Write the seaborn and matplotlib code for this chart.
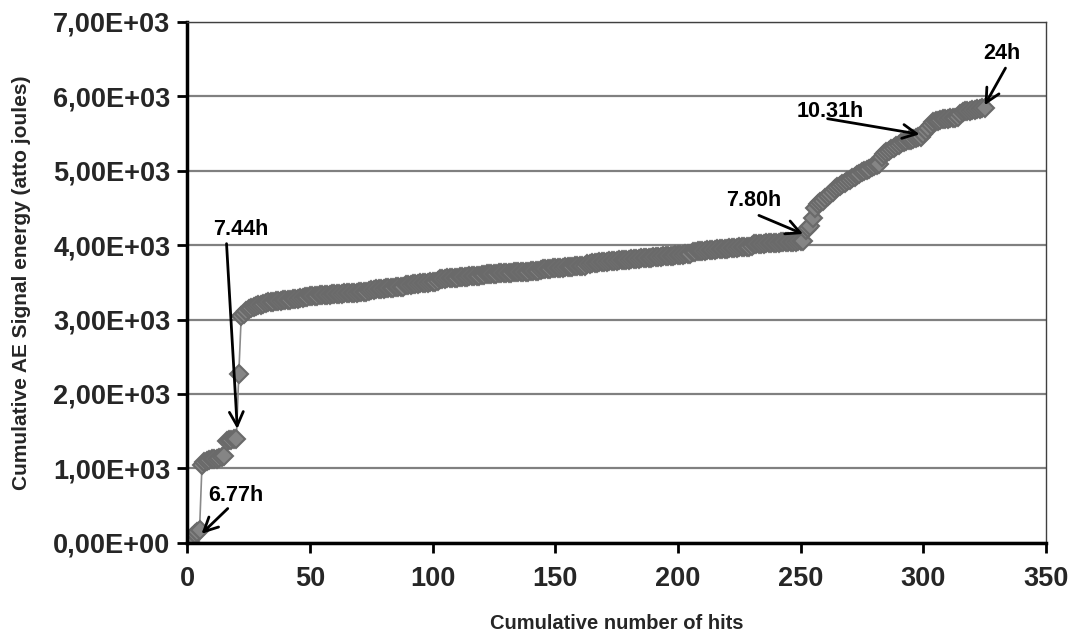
import seaborn as sns
import matplotlib.pyplot as plt
from matplotlib.ticker import FuncFormatter

# cumulative AE signal energy for each hit
energy = [
    0, 20, 80, 120, 150, 170,
    1050, 1080, 1100, 1110, 1120, 1125, 1130, 1140, 1150, 1170,
    1370, 1380, 1385, 1390, 1395,
    2270, 3050, 3080, 3110, 3140,
    3160, 3170, 3180, 3190, 3200, 3210, 3220, 3230, 3235, 3240,
    3245, 3250, 3255, 3258, 3261, 3264, 3267, 3270, 3275, 3280,
    3290, 3295, 3300, 3305, 3310, 3315, 3318, 3321, 3324, 3327,
    3330, 3333, 3336, 3339, 3342, 3345, 3348, 3350, 3352, 3354,
    3356, 3358, 3360, 3362, 3364, 3366, 3368, 3370, 3390, 3395,
    3400, 3405, 3410, 3413, 3416, 3419, 3422, 3425, 3428, 3431,
    3434, 3437, 3440, 3460, 3465, 3470, 3474, 3478, 3482, 3486,
    3490, 3494, 3498, 3502, 3506, 3510, 3514, 3540, 3545, 3550,
    3553, 3556, 3559, 3562, 3565, 3568, 3571, 3574, 3577, 3580,
    3583, 3586, 3589, 3592, 3595, 3605, 3608, 3611, 3614, 3617,
    3619, 3621, 3623, 3625, 3627, 3629, 3631, 3633, 3635, 3637,
    3639, 3641, 3643, 3645, 3647, 3649, 3651, 3653, 3670, 3674,
    3678, 3681, 3684, 3687, 3690, 3693, 3696, 3699, 3702, 3705,
    3708, 3711, 3714, 3717, 3720, 3723, 3726, 3745, 3750, 3755,
    3760, 3764, 3768, 3772, 3776, 3780, 3783, 3786, 3789, 3792,
    3795, 3798, 3801, 3804, 3807, 3810, 3813, 3816, 3819, 3822,
    3825, 3828, 3831, 3834, 3837, 3840, 3843, 3846, 3849, 3852,
    3855, 3858, 3861, 3864, 3867, 3870, 3873, 3876, 3879, 3882,
    3910, 3914, 3918, 3921, 3924, 3927, 3930, 3933, 3936, 3939,
    3942, 3945, 3948, 3951, 3954, 3957, 3960, 3963, 3966, 3969,
    3972, 3975, 3978, 3981, 3984, 4010, 4013, 4016, 4019, 4022,
    4025, 4027, 4029, 4031, 4033, 4035, 4037, 4039, 4041, 4043,
    4045, 4047, 4049, 4051, 4053, 4055,
    4200, 4230, 4260, 4370, 4500, 4560, 4580,
    4600, 4630, 4660, 4690, 4720, 4750, 4780, 4800, 4820, 4840, 4860, 4880,
    4900, 4920, 4940, 4960, 4980, 5000, 5015, 5030, 5045, 5060, 5075, 5090,
    5190, 5220, 5250, 5270, 5290, 5310, 5330, 5350, 5370, 5390,
    5400, 5410, 5420, 5430, 5440, 5450, 5460, 5500, 5540, 5570,
    5620, 5650, 5665, 5675, 5685, 5690, 5695, 5700, 5705, 5710,
    5715, 5720, 5760, 5790, 5800, 5805, 5810, 5815, 5820, 5825, 5830, 5840, 5845,
]
hits = list(range(len(energy)))

# annotations: label, text position, arrow start, arrow tip (data coords)
labels = ["6.77h", "7.44h", "7.80h", "10.31h", "24h"]
label_pos = [(20, 630), (22, 4210), (231, 4600), (262, 5800), (332, 6580)]
arrow_from = [(16.5, 460), (16, 4020), (233, 4400), (261, 5700), (333.5, 6380)]
arrow_to = [(5.8, 120), (20.4, 1530), (251, 4150), (298.5, 5490), (325, 5880)]

sns.set_style("white")
plt.rcParams['font.family'] = ['Liberation Sans', 'DejaVu Sans']
plt.rcParams['font.weight'] = 'bold'

fig = plt.figure(figsize=(10.72, 6.41), dpi=100)
ax = fig.add_axes([0.1747, 0.1533, 0.801, 0.8124])

ax.yaxis.grid(True, color='#808080', linewidth=1.6)
ax.set_axisbelow(True)

sns.lineplot(x=hits, y=energy, ax=ax, color='#8a8a8a', linewidth=1.2,
             marker='D', markersize=9, markerfacecolor='#858585',
             markeredgecolor='#6a6a6a', markeredgewidth=1.5)

for lab, tp, a0, a1 in zip(labels, label_pos, arrow_from, arrow_to):
    ax.text(tp[0], tp[1], lab, ha='center', va='center', fontsize=15.5,
            fontweight='bold', color='black')
    ax.annotate("", xy=a1, xytext=a0,
                arrowprops=dict(arrowstyle='->', color='black', lw=2,
                                mutation_scale=25, shrinkA=0, shrinkB=0))

ax.set_xlim(0, 350)
ax.set_ylim(0, 7000)
ax.set_xticks(range(0, 351, 50))
ax.set_yticks(range(0, 7001, 1000))
ax.yaxis.set_major_formatter(FuncFormatter(lambda v, p: f"{v:.2E}".replace('.', ',')))

ax.tick_params(axis='both', labelsize=19.5, direction='out', length=7, width=2,
               color='black', left=True, bottom=True)
ax.tick_params(axis='x', pad=10)
ax.tick_params(axis='y', pad=5)
for lbl in ax.get_xticklabels() + ax.get_yticklabels():
    lbl.set_fontweight('bold')

for side in ['left', 'bottom']:
    ax.spines[side].set_color('black')
    ax.spines[side].set_linewidth(2.5)
for side in ['top', 'right']:
    ax.spines[side].set_color('#404040')
    ax.spines[side].set_linewidth(1)

ax.set_xlabel("Cumulative number of hits", fontsize=14.5, fontweight='bold')
ax.set_ylabel("Cumulative AE Signal energy (atto joules)", fontsize=15,
              fontweight='bold')
ax.xaxis.set_label_coords(0.5, -0.137)
ax.yaxis.set_label_coords(-0.182, 0.5)

fig.savefig("out.png", dpi=100)
